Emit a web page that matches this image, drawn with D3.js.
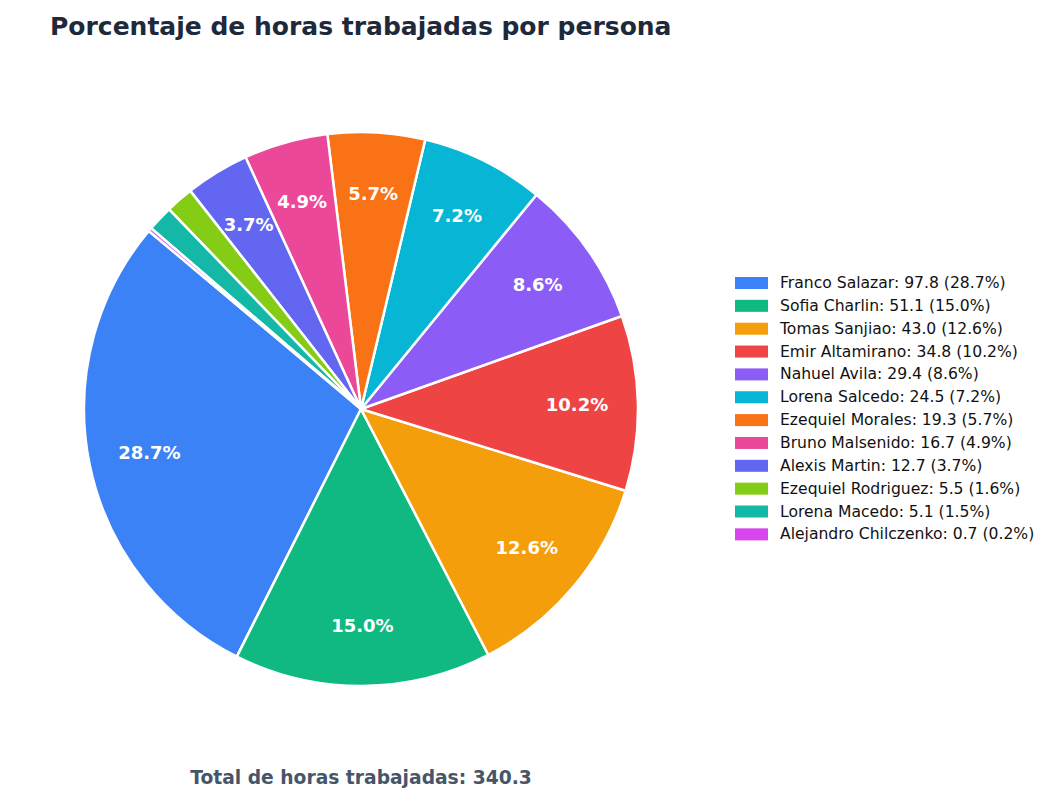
<!DOCTYPE html>
<html>
<head>
<meta charset="utf-8">
<script src="https://cdn.jsdelivr.net/npm/d3@7"></script>
<style>
  body { margin: 0; background: #fff; }
  text { font-family: "DejaVu Sans", sans-serif; }
</style>
</head>
<body>
<div id="chart-area"></div>
<script>
// datos
const nombres = ["Franco Salazar", "Sofia Charlin", "Tomas Sanjiao", "Emir Altamirano",
  "Nahuel Avila", "Lorena Salcedo", "Ezequiel Morales", "Bruno Malsenido",
  "Alexis Martin", "Ezequiel Rodriguez", "Lorena Macedo", "Alejandro Chilczenko"]
const horas = [97.8, 51.1, 43.0, 34.8, 29.4, 24.5, 19.3, 16.7, 12.7, 5.5, 5.1, 0.7]
const colores = ["#3b82f6", "#10b981", "#f59e0b", "#ef4444", "#8b5cf6", "#06b6d4",
  "#f97316", "#ec4899", "#6366f1", "#84cc16", "#14b8a6", "#d946ef"]
const totalHoras = 340.3 // total mostrado en el grafico (sin redondeo)

const width = 1056, height = 802
const cx = 361, cy = 409, radius = 277

const svg = d3.select("#chart-area").append("svg")
    .attr("width", width)
    .attr("height", height)

// title
svg.append("text")
    .attr("x", 50).attr("y", 35)
    .attr("font-size", 25).attr("font-weight", "bold")
    .attr("fill", "#1e293b")
    .text("Porcentaje de horas trabajadas por persona")

// pie: empieza a 140 grados (antihorario), como matplotlib
const start = (90 - 140) * Math.PI / 180
const pie = d3.pie().sort(null)
    .startAngle(start)
    .endAngle(start - 2 * Math.PI)
const arcs = pie(horas)

const arc = d3.arc().innerRadius(0).outerRadius(radius)
const labelArc = d3.arc().innerRadius(radius * 0.78).outerRadius(radius * 0.78)
const pct = v => (v / totalHoras * 100).toFixed(1) + "%"

const g = svg.append("g").attr("transform", `translate(${cx},${cy})`)

g.selectAll("path")
    .data(arcs)
    .enter().append("path")
    .attr("d", arc)
    .attr("fill", (d, i) => colores[i])
    .attr("stroke", "white")
    .attr("stroke-width", 2.5)
    .attr("stroke-linejoin", "round")

g.selectAll("text.pct")
    .data(arcs.filter(d => d.value / totalHoras >= 0.03))
    .enter().append("text")
    .attr("class", "pct")
    .attr("transform", d => `translate(${labelArc.centroid(d)})`)
    .attr("text-anchor", "middle")
    .attr("dominant-baseline", "central")
    .attr("font-size", 18).attr("font-weight", "bold")
    .attr("fill", "white")
    .text(d => pct(d.value))

// legend
const legend = svg.append("g").attr("transform", "translate(735,283)")
const rows = legend.selectAll("g")
    .data(nombres)
    .enter().append("g")
    .attr("transform", (d, i) => `translate(0,${i * 22.85})`)

rows.append("rect")
    .attr("x", 0).attr("y", -6)
    .attr("width", 33).attr("height", 12)
    .attr("fill", (d, i) => colores[i])

rows.append("text")
    .attr("x", 45).attr("y", 0)
    .attr("dominant-baseline", "central")
    .attr("font-size", 15.6)
    .attr("fill", "#111")
    .text((d, i) => `${d}: ${horas[i].toFixed(1)} (${pct(horas[i])})`)

// footer
svg.append("text")
    .attr("x", cx).attr("y", 784)
    .attr("text-anchor", "middle")
    .attr("font-size", 18.7).attr("font-weight", "bold")
    .attr("fill", "#475569")
    .text(`Total de horas trabajadas: ${totalHoras.toFixed(1)}`)
</script>
</body>
</html>
